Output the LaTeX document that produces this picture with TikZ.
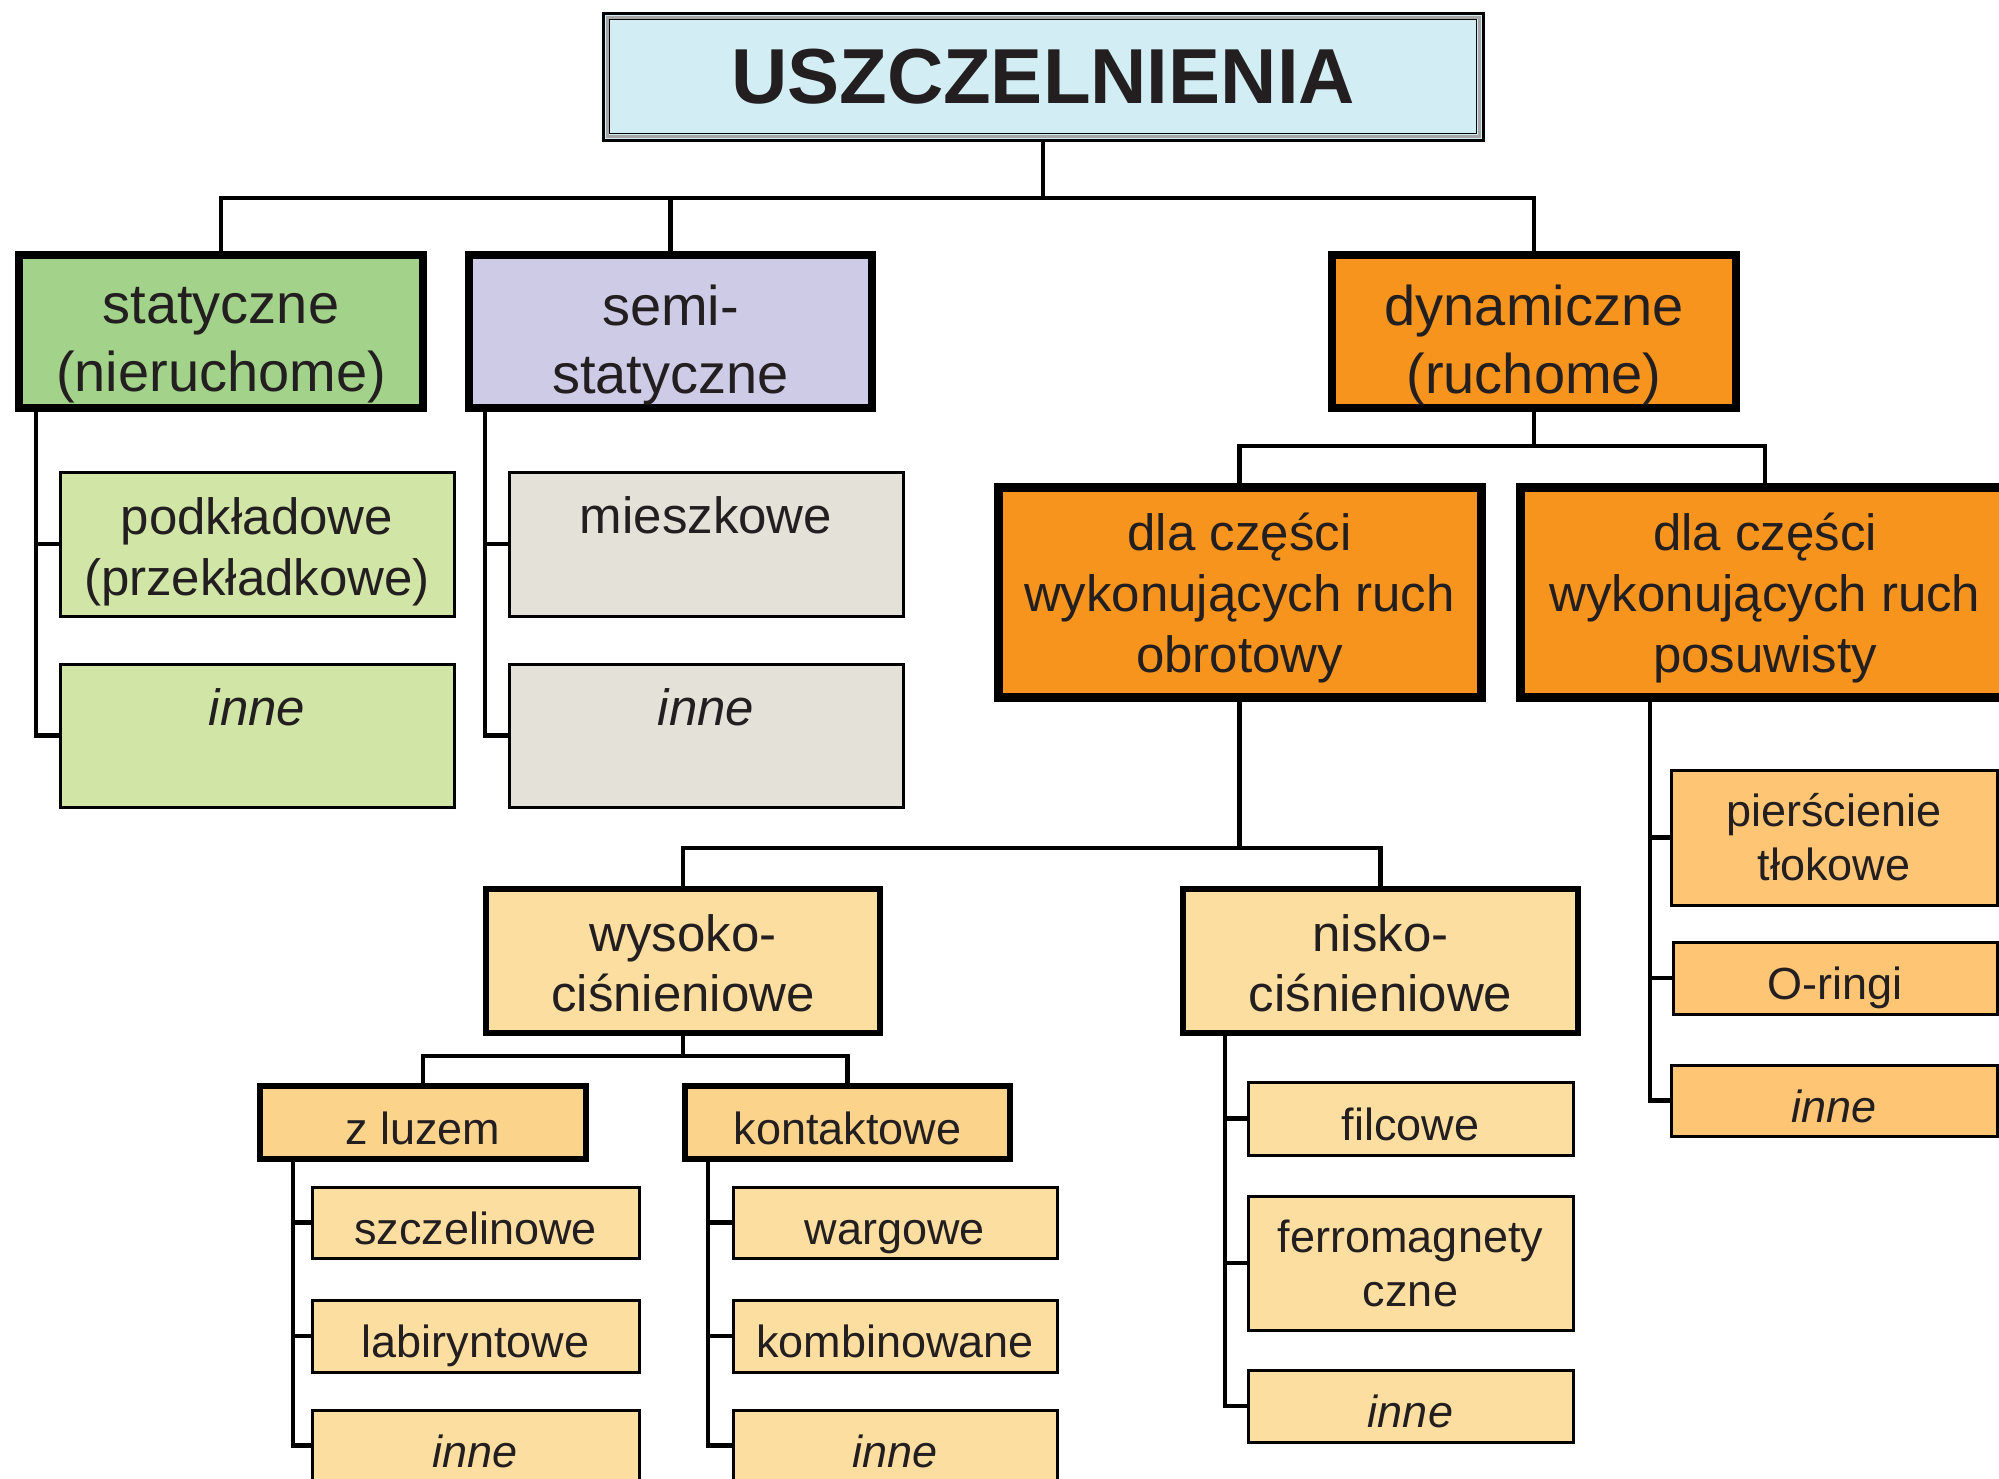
\documentclass[tikz,border=0pt]{standalone}
\usepackage{fontspec}
\setmainfont{Liberation Sans}
\definecolor{tcol}{HTML}{231F20}
\definecolor{cTitle}{HTML}{D2EDF3}
\definecolor{cStat}{HTML}{A3D38A}
\definecolor{cSemi}{HTML}{CDCBE6}
\definecolor{cDyn}{HTML}{F7941E}
\definecolor{cPodk}{HTML}{D1E5A6}
\definecolor{cMies}{HTML}{E4E1D9}
\definecolor{cPale}{HTML}{FCDFA0}
\definecolor{cMid}{HTML}{FBD38B}
\definecolor{cPos}{HTML}{FDC574}
\newcommand\fsz[2]{\fontsize{#1}{#2}\selectfont}
% name, box style, text style, x1, y1, x2, y2, text
\newcommand\boxnode[8]{%
  \node[#2, minimum width={#6pt-#4pt}, minimum height={#7pt-#5pt}] (#1) at ({(#4+#6)/2},{(#5+#7)/2}) {};%
  \node[txt, #3] at (#1.center) {#8};}
\tikzset{
  box/.style={draw=black, inner sep=0pt, outer sep=0pt},
  lone/.style={box, line width=8pt},
  ltwo/.style={box, line width=3pt},
  dtwo/.style={box, line width=9pt, fill=cDyn},
  pres/.style={box, line width=5.5pt, fill=cPale},
  mid/.style={box, line width=6pt, fill=cMid},
  small/.style={box, line width=3pt},
  txt/.style={text=tcol, inner sep=0pt, outer sep=0pt, align=center, anchor=center},
  fone/.style={font=\fsz{56}{68}, yshift=-14pt},
  ftwo/.style={font=\fsz{51}{61}},
  fthree/.style={font=\fsz{51}{61}, yshift=-6pt},
  fpres/.style={font=\fsz{51}{60}, yshift=-2pt},
  fsmall/.style={font=\fsz{45}{54}},
  fsone/.style={font=\fsz{45}{54}, anchor=base, yshift=-21.5pt},
  topt/.style={text=tcol, inner sep=0pt, anchor=base, font=\fsz{51}{61}},
  conn/.style={draw=black, line width=4.5pt, line join=miter},
}
\begin{document}
\begin{tikzpicture}[x=1pt, y=-1pt]
\useasboundingbox (0,0) rectangle (1999,1478);
\clip (0,0) rectangle (1999,1478);
\fill[white] (0,0) rectangle (1999,1478);
% title
\boxnode{title}{box, line width=3pt, fill=cTitle}{font=\fsz{78}{90}\bfseries}{603}{13}{1483}{140}{USZCZELNIENIA}
\draw[gray!70, line width=3pt] ([shift={(4pt,-4pt)}]title.north west) rectangle ([shift={(-4pt,4pt)}]title.south east);
\draw[black, line width=1.5pt] ([shift={(6.5pt,-6.5pt)}]title.north west) rectangle ([shift={(-6.5pt,6.5pt)}]title.south east);
% level 1
\boxnode{stat}{lone, fill=cStat}{fone}{19}{255}{423}{408}{statyczne\\(nieruchome)}
\boxnode{semi}{lone, fill=cSemi}{fone}{469}{255}{872}{408}{semi-\\statyczne}
\boxnode{dyn}{lone, fill=cDyn}{fone}{1332}{255}{1736}{408}{dynamiczne\\(ruchome)}
% static / semi children
\boxnode{podk}{ltwo, fill=cPodk}{ftwo, yshift=-8pt}{60}{472}{454}{616}{podkładowe\\(przekładkowe)}
\node[ltwo, fill=cPodk, minimum width=394pt, minimum height=143pt] (inneA) at (257,735.5) {};
\node[topt] at ([yshift=-61pt]inneA.north) {\itshape inne};
\node[ltwo, fill=cMies, minimum width=394pt, minimum height=144pt] (mies) at (706,544) {};
\node[topt] at ([yshift=-61pt]mies.north) {mieszkowe};
\node[ltwo, fill=cMies, minimum width=394pt, minimum height=143pt] (inneB) at (706,735.5) {};
\node[topt] at ([yshift=-61pt]inneB.north) {\itshape inne};
% dynamic children
\boxnode{obr}{dtwo}{fthree}{998}{487}{1481}{697}{dla części\\wykonujących ruch\\obrotowy}
\boxnode{pos}{dtwo}{fthree}{1520}{487}{2010}{697}{dla części\\wykonujących ruch\\posuwisty}
% rotary
\boxnode{wys}{pres}{fpres}{486}{889}{880}{1033}{wysoko-\\ciśnieniowe}
\boxnode{nis}{pres}{fpres}{1183}{889}{1578}{1033}{nisko-\\ciśnieniowe}
\boxnode{zlu}{mid}{fsone}{260}{1086}{586}{1159}{z luzem}
\boxnode{kon}{mid}{fsone}{685}{1086}{1010}{1159}{kontaktowe}
\boxnode{szc}{small, fill=cPale}{fsone}{312}{1187}{639}{1258}{szczelinowe}
\boxnode{lab}{small, fill=cPale}{fsone}{312}{1300}{639}{1372}{labiryntowe}
\boxnode{inneC}{small, fill=cPale}{fsone}{312}{1410}{639}{1481}{\itshape inne}
\boxnode{war}{small, fill=cPale}{fsone}{733}{1187}{1057}{1258}{wargowe}
\boxnode{kom}{small, fill=cPale}{fsone}{733}{1300}{1057}{1372}{kombinowane}
\boxnode{inneD}{small, fill=cPale}{fsone}{733}{1410}{1057}{1481}{\itshape inne}
\boxnode{fil}{small, fill=cPale}{fsone}{1248}{1082}{1573}{1155}{filcowe}
\boxnode{fer}{small, fill=cPale}{fsmall}{1248}{1196}{1573}{1330}{ferromagnety\\czne}
\boxnode{inneE}{small, fill=cPale}{fsone}{1248}{1370}{1573}{1442}{\itshape inne}
% sliding
\boxnode{pie}{small, fill=cPos}{fsmall}{1671}{770}{1997}{905}{pierścienie\\tłokowe}
\boxnode{ori}{small, fill=cPos}{fsone}{1673}{942}{1997}{1014}{O-ringi}
\boxnode{inneF}{small, fill=cPos}{fsone}{1671}{1065}{1997}{1136}{\itshape inne}
% connectors
\coordinate (busA) at (0,198);
\coordinate (busB) at (0,446);
\coordinate (busC) at (0,848);
\coordinate (busD) at (0,1056);
\coordinate (tA) at (36,0);
\coordinate (tB) at (485,0);
\coordinate (tP) at (1650,0);
\coordinate (tZ) at (293,0);
\coordinate (tK) at (708,0);
\coordinate (tN) at (1225,0);
\draw[conn] (stat.north) -- (stat.north |- busA) -- (dyn.north |- busA) -- (dyn.north);
\draw[conn] (semi.north) -- (semi.north |- busA);
\draw[conn] (title.south) -- (title.south |- busA);
\draw[conn] (stat.south -| tA) |- (inneA.west);
\draw[conn] (podk.west -| tA) -- (podk.west);
\draw[conn] (semi.south -| tB) |- (inneB.west);
\draw[conn] (mies.west -| tB) -- (mies.west);
\draw[conn] (obr.north) -- (obr.north |- busB) -- (pos.north |- busB) -- (pos.north);
\draw[conn] (dyn.south) -- (dyn.south |- busB);
\draw[conn] (wys.north) -- (wys.north |- busC) -- (nis.north |- busC) -- (nis.north);
\draw[conn] (obr.south) -- (obr.south |- busC);
\draw[conn] (zlu.north) -- (zlu.north |- busD) -- (kon.north |- busD) -- (kon.north);
\draw[conn] (wys.south) -- (wys.south |- busD);
\draw[conn] (zlu.south -| tZ) |- (inneC.west);
\draw[conn] (szc.west -| tZ) -- (szc.west);
\draw[conn] (lab.west -| tZ) -- (lab.west);
\draw[conn] (kon.south -| tK) |- (inneD.west);
\draw[conn] (war.west -| tK) -- (war.west);
\draw[conn] (kom.west -| tK) -- (kom.west);
\draw[conn] (nis.south -| tN) |- (inneE.west);
\draw[conn] (fil.west -| tN) -- (fil.west);
\draw[conn] (fer.west -| tN) -- (fer.west);
\draw[conn] (pos.south -| tP) |- (inneF.west);
\draw[conn] (pie.west -| tP) -- (pie.west);
\draw[conn] (ori.west -| tP) -- (ori.west);
\end{tikzpicture}
\end{document}
